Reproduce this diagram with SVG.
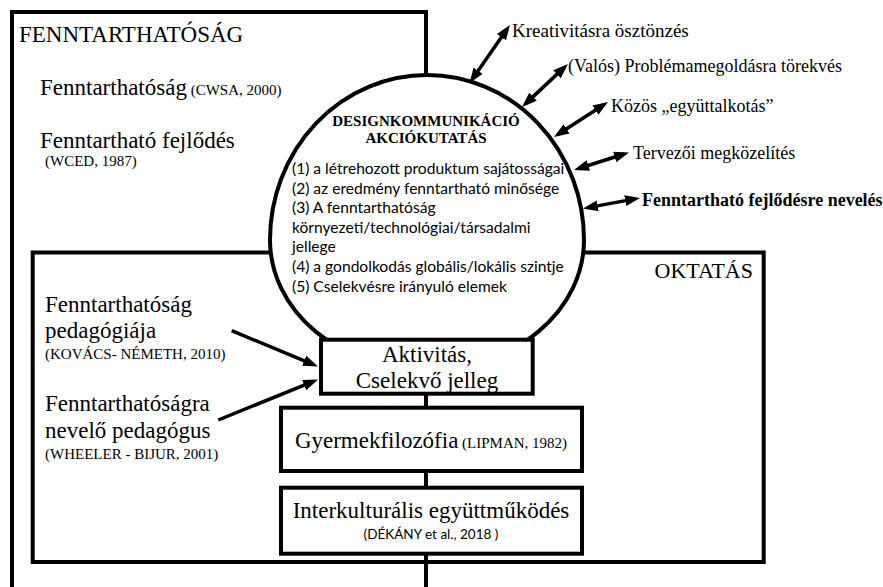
<svg xmlns="http://www.w3.org/2000/svg" width="883" height="587" viewBox="0 0 883 587">
<style>
.frame{fill:#fff;stroke:#000;stroke-width:4}
.serif{font-family:"Liberation Serif","Times New Roman",serif;fill:#000}
.sans{font-family:Lato,"Open Sans","Liberation Sans",sans-serif;fill:#000}
.t23{font-size:23px}
.t22{font-size:22px}
.t18{font-size:18px}
.t15{font-size:15px}
.conn{stroke:#000;stroke-width:4;fill:none}
.arr{stroke:#000;stroke-width:3.5;fill:none}
</style>
<defs>
<marker id="ah" markerUnits="userSpaceOnUse" markerWidth="16" markerHeight="12" refX="10" refY="5.5" orient="auto-start-reverse" viewBox="0 0 16 12">
<path d="M0,0 L15,5.5 L0,11 z" fill="#000"/>
</marker>
</defs>
<rect width="883" height="587" fill="#fff"/>

<g id="fenntarthatosag">
<rect x="12" y="12" width="414" height="640" fill="none" stroke="#000" stroke-width="4"/>
<text class="serif" font-size="23" x="19" y="42">FENNTARTHATÓSÁG</text>
<text class="serif t23" x="40" y="95">Fenntarthatóság<tspan class="t15"> (CWSA, 2000)</tspan></text>
<text class="serif t23" x="40" y="148">Fenntartható fejlődés</text>
<text class="serif t15" x="45" y="166">(WCED, 1987)</text>
</g>

<g id="oktatas">
<rect class="frame" x="32.7" y="252.5" width="731" height="309.5"/>
<text class="serif t22" x="753" y="278" text-anchor="end">OKTATÁS</text>
<text class="serif t23" x="45" y="312">Fenntarthatóság</text>
<text class="serif t23" x="45" y="338">pedagógiája</text>
<text class="serif t15" x="45" y="359">(KOVÁCS- NÉMETH, 2010)</text>
<text class="serif t23" x="45" y="411">Fenntarthatóságra</text>
<text class="serif t23" x="45" y="438">nevelő pedagógus</text>
<text class="serif t15" x="45" y="459">(WHEELER - BIJUR, 2001)</text>
</g>

<g id="designkommunikacio">
<path class="frame" d="M270,240 A157,165 0 0 1 584,240 A157,130 0 0 1 270,240 Z"/>
<text class="serif" font-size="15" font-weight="bold" x="426" y="126" text-anchor="middle">DESIGNKOMMUNIKÁCIÓ</text>
<text class="serif" font-size="15" font-weight="bold" x="426" y="143" text-anchor="middle">AKCIÓKUTATÁS</text>
<g class="sans" font-size="15.6">
<text x="292" y="174">(1) a létrehozott produktum sajátosságai</text>
<text x="292" y="193.6">(2) az eredmény fenntartható minősége</text>
<text x="292" y="213.2">(3) A fenntarthatóság</text>
<text x="292" y="232.8">környezeti/technológiai/társadalmi</text>
<text x="292" y="252.4">jellege</text>
<text x="292" y="272">(4) a gondolkodás globális/lokális szintje</text>
<text x="292" y="291.6">(5) Cselekvésre irányuló elemek</text>
</g>
</g>

<g id="labels-right" class="serif t18">
<text x="512" y="37" font-size="19">Kreativitásra ösztönzés</text>
<text x="568" y="72">(Valós) Problémamegoldásra törekvés</text>
<text x="611" y="112">Közös „együttalkotás”</text>
<text x="633" y="159">Tervezői megközelítés</text>
<text x="642" y="206" font-weight="bold">Fenntartható fejlődésre nevelés</text>
</g>

<g id="connectors">
<line class="conn" x1="426" y1="393" x2="426" y2="408"/>
<line class="conn" x1="426" y1="470" x2="426" y2="488"/>
<line class="conn" x1="426" y1="553" x2="426" y2="587"/>
<line class="arr" x1="472.4" y1="78.9" x2="507.1" y2="29.1" marker-start="url(#ah)" marker-end="url(#ah)"/>
<line class="arr" x1="525.7" y1="103.6" x2="564.3" y2="67.4" marker-start="url(#ah)" marker-end="url(#ah)"/>
<line class="arr" x1="558.2" y1="134.3" x2="603.8" y2="104.7" marker-start="url(#ah)" marker-end="url(#ah)"/>
<line class="arr" x1="578.8" y1="168.5" x2="624.2" y2="154" marker-start="url(#ah)" marker-end="url(#ah)"/>
<line class="arr" x1="587.9" y1="207.6" x2="635.1" y2="198.9" marker-start="url(#ah)" marker-end="url(#ah)"/>
<line class="arr" x1="231.7" y1="330.7" x2="313.4" y2="364.6" marker-end="url(#ah)"/>
<line class="arr" x1="218.3" y1="420" x2="313.4" y2="381.4" marker-end="url(#ah)"/>
</g>

<g id="aktivitas">
<rect x="321" y="339.7" width="211.7" height="54" fill="#fff"/>
<text class="serif t23" x="427" y="362" text-anchor="middle">Aktivitás,</text>
<text class="serif t23" x="427" y="388" text-anchor="middle">Cselekvő jelleg</text>
<rect x="321" y="339.7" width="211.7" height="54" fill="none" stroke="#000" stroke-width="4"/>
</g>

<g id="gyermekfilozofia">
<rect class="frame" x="281" y="407.7" width="301" height="63.3"/>
<text class="serif t23" x="431" y="448" text-anchor="middle">Gyermekfilozófia<tspan class="t15"> (LIPMAN, 1982)</tspan></text>
</g>

<g id="interkulturalis">
<rect class="frame" x="281" y="487.7" width="301" height="66"/>
<text class="serif t23" x="431" y="518" text-anchor="middle">Interkulturális együttműködés</text>
<text class="sans" font-size="13.5" x="431" y="539" text-anchor="middle">(DÉKÁNY et al., 2018 )</text>
</g>
</svg>
